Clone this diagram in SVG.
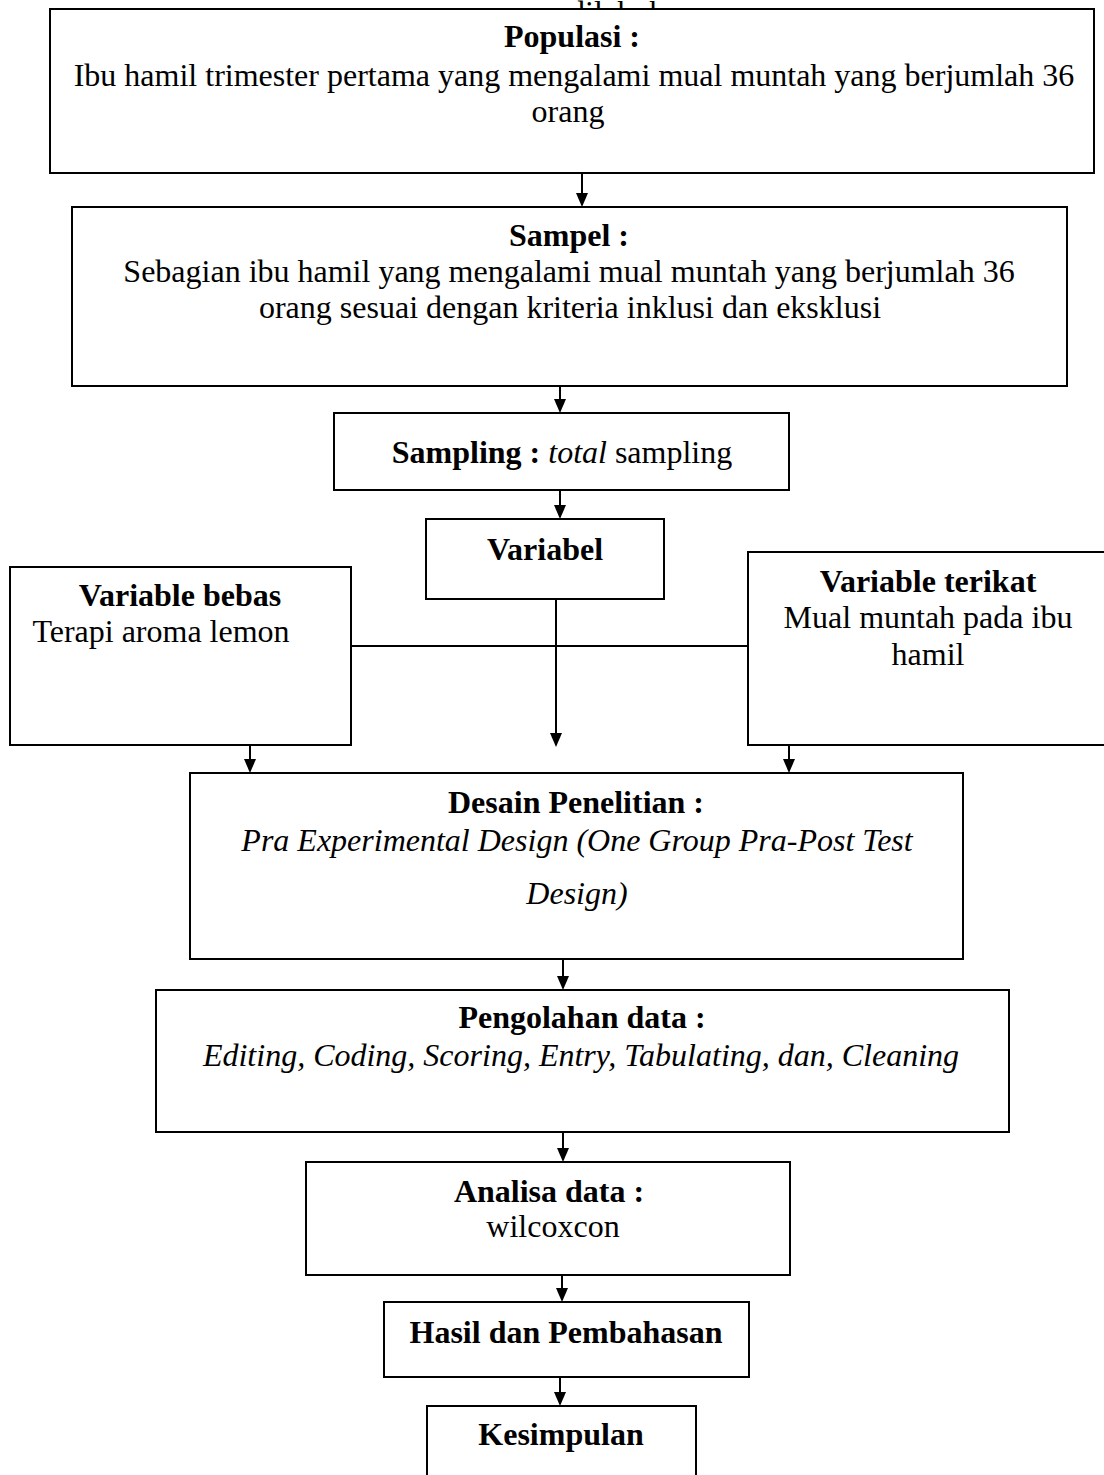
<svg xmlns="http://www.w3.org/2000/svg" width="1104" height="1475" viewBox="0 0 1104 1475">
<style>
  text { font-family: "Liberation Serif", "Times New Roman", serif; font-size: 32px; fill: #000; }
  .b { font-weight: bold; }
  .i { font-style: italic; }
  .c { text-anchor: middle; }
  rect.box { fill: #fff; stroke: #000; stroke-width: 2; }
  .conn line { stroke: #000; stroke-width: 2; }
  .conn polygon { fill: #000; }
</style>
<rect width="1104" height="1475" fill="#fff"/>
<text x="569" y="23">dilakukan</text>

<g id="populasi">
  <rect class="box" x="50" y="9" width="1044" height="164"/>
  <text class="b c" x="572" y="47">Populasi :</text>
  <text class="c" x="574" y="86">Ibu hamil trimester pertama yang mengalami mual muntah yang berjumlah 36</text>
  <text class="c" x="568" y="122">orang</text>
</g>

<g id="sampel">
  <rect class="box" x="72" y="207" width="995" height="179"/>
  <text class="b c" x="569" y="246">Sampel :</text>
  <text class="c" x="569" y="282">Sebagian ibu hamil yang mengalami mual muntah yang berjumlah 36</text>
  <text class="c" x="570" y="318">orang sesuai dengan kriteria inklusi dan eksklusi</text>
</g>

<g id="sampling">
  <rect class="box" x="334" y="413" width="455" height="77"/>
  <text class="c" x="562" y="463"><tspan class="b">Sampling : </tspan><tspan class="i">total</tspan> sampling</text>
</g>

<g id="variabel">
  <rect class="box" x="426" y="519" width="238" height="80"/>
  <text class="b c" x="545" y="560">Variabel</text>
</g>

<g id="variable-bebas">
  <rect class="box" x="10" y="567" width="341" height="178"/>
  <text class="b c" x="180" y="606">Variable bebas</text>
  <text class="c" x="161" y="642">Terapi aroma lemon</text>
</g>

<g id="variable-terikat">
  <rect class="box" x="748" y="552" width="370" height="193"/>
  <text class="b c" x="928" y="592">Variable terikat</text>
  <text class="c" x="928" y="628">Mual muntah pada ibu</text>
  <text class="c" x="928" y="665">hamil</text>
</g>

<g id="desain">
  <rect class="box" x="190" y="773" width="773" height="186"/>
  <text class="b c" x="576" y="813">Desain Penelitian :</text>
  <text class="i c" x="577" y="851">Pra Experimental Design (One Group Pra-Post Test</text>
  <text class="i c" x="577" y="904">Design)</text>
</g>

<g id="pengolahan">
  <rect class="box" x="156" y="990" width="853" height="142"/>
  <text class="b c" x="582" y="1028">Pengolahan data :</text>
  <text class="i c" x="581" y="1066">Editing, Coding, Scoring, Entry, Tabulating, dan, Cleaning</text>
</g>

<g id="analisa">
  <rect class="box" x="306" y="1162" width="484" height="113"/>
  <text class="b c" x="549" y="1202">Analisa data :</text>
  <text class="c" x="553" y="1237">wilcoxcon</text>
</g>

<g id="hasil">
  <rect class="box" x="384" y="1302" width="365" height="75"/>
  <text class="b c" x="566" y="1343">Hasil dan Pembahasan</text>
</g>

<g id="kesimpulan">
  <rect class="box" x="427" y="1406" width="269" height="80"/>
  <text class="b c" x="561" y="1445">Kesimpulan</text>
</g>

<g id="connectors" class="conn">
  <line x1="582" y1="173" x2="582" y2="195"/>
  <polygon points="576,193 588,193 582,207"/>
  <line x1="560" y1="386" x2="560" y2="401"/>
  <polygon points="554,399 566,399 560,413"/>
  <line x1="560" y1="490" x2="560" y2="507"/>
  <polygon points="554,505 566,505 560,519"/>
  <line x1="556" y1="599" x2="556" y2="735"/>
  <polygon points="550,733 562,733 556,747"/>
  <line x1="351" y1="646" x2="748" y2="646"/>
  <line x1="250" y1="745" x2="250" y2="761"/>
  <polygon points="244,759 256,759 250,773"/>
  <line x1="789" y1="745" x2="789" y2="761"/>
  <polygon points="783,759 795,759 789,773"/>
  <line x1="563" y1="959" x2="563" y2="978"/>
  <polygon points="557,976 569,976 563,990"/>
  <line x1="563" y1="1132" x2="563" y2="1150"/>
  <polygon points="557,1148 569,1148 563,1162"/>
  <line x1="562" y1="1275" x2="562" y2="1290"/>
  <polygon points="556,1288 568,1288 562,1302"/>
  <line x1="560" y1="1377" x2="560" y2="1394"/>
  <polygon points="554,1392 566,1392 560,1406"/>
</g>
</svg>
